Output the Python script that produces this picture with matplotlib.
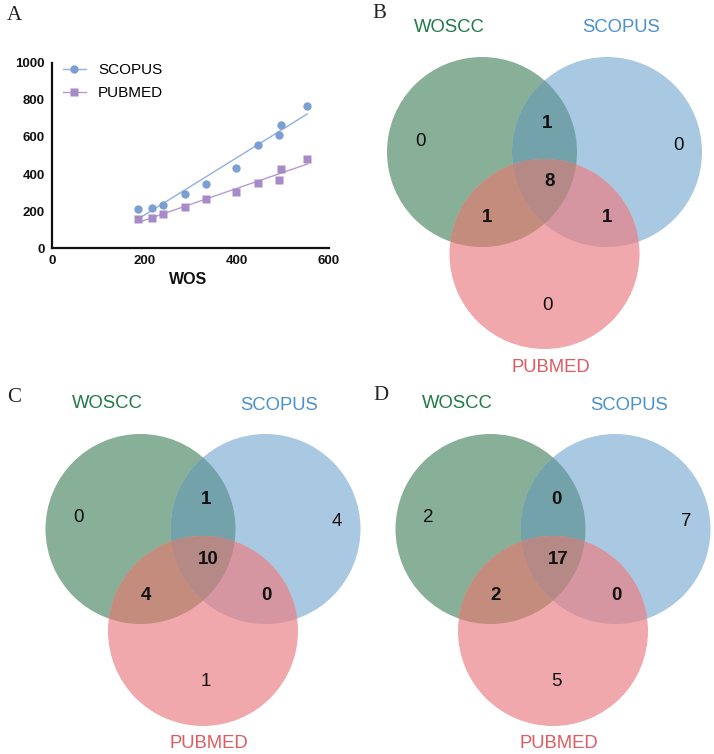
import numpy as np
import matplotlib
matplotlib.use("Agg")
import matplotlib.pyplot as plt
from matplotlib.patches import Circle, Polygon

# ---------------- data ----------------
wos = [187, 216, 241, 289, 333, 399, 446, 491, 497, 553]
scopus = [212, 219, 235, 291, 348, 434, 558, 610, 666, 767]
pubmed = [156, 165, 183, 224, 264, 305, 352, 370, 427, 480]

set_names = ["WOSCC", "SCOPUS", "PUBMED"]
# region order: W only, S only, P only, W&S, W&P, S&P, W&S&P
venn_B = [0, 0, 0, 1, 1, 1, 8]
venn_C = [0, 4, 1, 1, 4, 0, 10]
venn_D = [2, 7, 5, 0, 2, 0, 17]

# ---------------- style ----------------
W, H = 714, 754
fig = plt.figure(figsize=(W / 100, H / 100), dpi=100)
SANS = "Liberation Sans"

ov = fig.add_axes([0, 0, 1, 1])
ov.set_xlim(0, W)
ov.set_ylim(H, 0)
ov.axis("off")

col_only = ["#88AF98", "#A9C8E2", "#F0A8AC"]
col_pair = {(0, 1): "#74A2AB", (0, 2): "#C48C7C", (1, 2): "#D596A2"}
col_all = "#B48986"
name_cols = ["#1F7A45", "#4A90CC", "#E15A62"]

R = 95.0
DX = 62.5
DY = 102.0


def region_poly(centers, idx):
    pts = []
    th = np.linspace(0, 2 * np.pi, 720, endpoint=False)
    for i in idx:
        cx, cy = centers[i]
        p = np.column_stack([cx + R * np.cos(th), cy + R * np.sin(th)])
        ok = np.ones(len(p), bool)
        for j in idx:
            if j == i:
                continue
            ox, oy = centers[j]
            ok &= (p[:, 0] - ox) ** 2 + (p[:, 1] - oy) ** 2 <= R ** 2 + 1e-6
        pts.append(p[ok])
    pts = np.vstack(pts)
    m = pts.mean(axis=0)
    ang = np.arctan2(pts[:, 1] - m[1], pts[:, 0] - m[0])
    return pts[np.argsort(ang)]


def venn(cx, cy, vals):
    centers = [(cx - DX, cy), (cx + DX, cy), (cx, cy + DY)]
    for i, (x, y) in enumerate(centers):
        ov.add_patch(Circle((x, y), R, facecolor=col_only[i], edgecolor="none", zorder=1))
    for (a, b), c in col_pair.items():
        ov.add_patch(Polygon(region_poly(centers, [a, b]), closed=True,
                             facecolor=c, edgecolor="none", zorder=2))
    ov.add_patch(Polygon(region_poly(centers, [0, 1, 2]), closed=True,
                         facecolor=col_all, edgecolor="none", zorder=3))
    gx, gy = centers[0]
    sx, sy = centers[1]
    px, py = centers[2]
    pos = [(gx - 62, gy - 11), (sx + 71, sy - 7), (px + 3, py + 51),
           (cx + 3, cy - 29), (cx - 57, cy + 66), (cx + 63, cy + 66), (cx + 5, cy + 30)]
    for k, (v, (x, y)) in enumerate(zip(vals, pos)):
        ov.text(x, y, str(v), ha="center", va="center", fontsize=13.5,
                fontfamily=SANS, fontweight="bold" if k >= 3 else "normal",
                color="#111111", zorder=5)
    ov.text(gx - 33, gy - 125, set_names[0], ha="center", va="center",
            fontsize=13.3, fontfamily=SANS, color=name_cols[0], zorder=5)
    ov.text(sx + 14, sy - 124, set_names[1], ha="center", va="center",
            fontsize=13.3, fontfamily=SANS, color=name_cols[1], zorder=5)
    ov.text(px + 6, py + 113, set_names[2], ha="center", va="center",
            fontsize=13.3, fontfamily=SANS, color=name_cols[2], zorder=5)


venn(544.5, 152, venn_B)
venn(203.0, 529, venn_C)
venn(553.0, 529, venn_D)

for lab, x, y in [("A", 14, 16), ("B", 379, 14), ("C", 14, 397), ("D", 381, 396)]:
    ov.text(x, y, lab, ha="center", va="center", fontsize=15,
            fontfamily="Liberation Serif", color="#222222")

# ---------------- panel A ----------------
axA = fig.add_axes([52 / W, 1 - 248.3 / H, (329 - 52) / W, (248.3 - 62.7) / H])
c_sc_m, c_sc_l = "#7C9FD3", "#8FB0E0"
c_pm_m, c_pm_l = "#A68BC8", "#B79AD4"

xs = np.array(wos, float)
xl = np.array([xs.min(), xs.max()])
k1 = np.polyfit(xs, scopus, 1)
k2 = np.polyfit(xs, pubmed, 1)
axA.plot(xl, np.polyval(k1, xl), color=c_sc_l, lw=1.0, zorder=2)
axA.plot(xl, np.polyval(k2, xl), color=c_pm_l, lw=1.0, zorder=2)
axA.plot(wos, scopus, "o", color=c_sc_m, ms=6, mec="none", zorder=3)
axA.plot(wos, pubmed, "s", color=c_pm_m, ms=5.6, mec="none", zorder=3)

axA.plot([], [], "-o", color=c_sc_l, mfc=c_sc_m, mec="none", ms=6, lw=1.0, label="SCOPUS")
axA.plot([], [], "-s", color=c_pm_l, mfc=c_pm_m, mec="none", ms=5.6, lw=1.0, label="PUBMED")
axA.legend(loc="upper left", bbox_to_anchor=(-0.01, 1.07), frameon=False,
           prop={"family": SANS, "size": 11}, handlelength=1.5,
           handletextpad=0.8, labelspacing=0.55)

axA.set_xlim(0, 600)
axA.set_ylim(0, 1000)
axA.set_xticks([0, 200, 400, 600])
axA.set_yticks([0, 200, 400, 600, 800, 1000])
for s in ["top", "right"]:
    axA.spines[s].set_visible(False)
for s in ["left", "bottom"]:
    axA.spines[s].set_linewidth(1.6)
    axA.spines[s].set_color("#111111")
axA.tick_params(length=0, pad=5)
for t in axA.get_xticklabels() + axA.get_yticklabels():
    t.set_fontfamily(SANS)
    t.set_fontweight("bold")
    t.set_fontsize(9.5)
    t.set_color("#111111")
axA.set_xlabel("WOS", fontfamily=SANS, fontweight="bold", fontsize=11.5,
               color="#111111")
axA.xaxis.set_label_coords(0.49, -0.13)

fig.savefig("out.png", dpi=100)
